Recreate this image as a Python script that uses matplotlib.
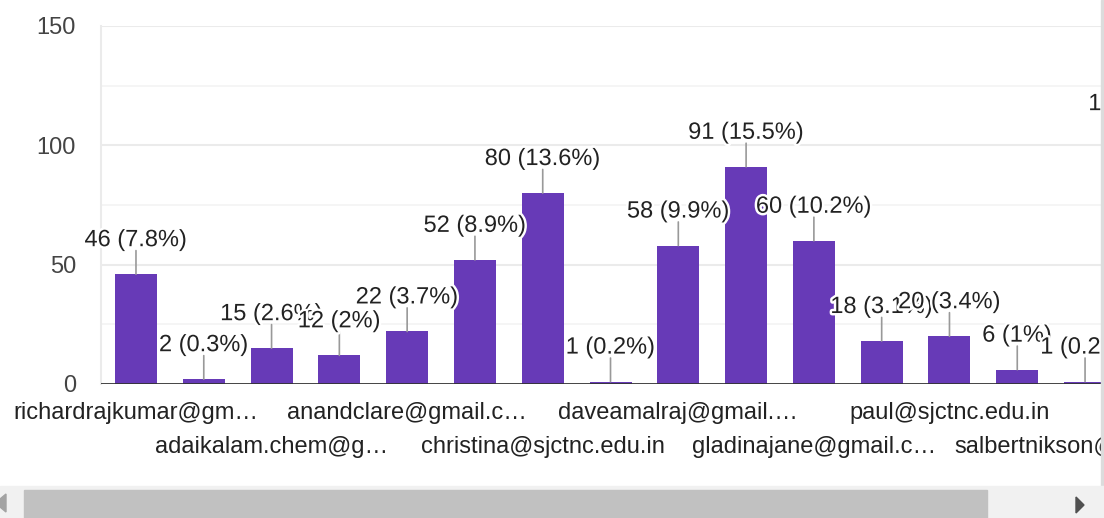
import matplotlib.pyplot as plt
import matplotlib.patheffects as pe
from matplotlib.patches import Rectangle, Polygon
from matplotlib.transforms import blended_transform_factory, offset_copy

plt.rcParams['font.family'] = ['Liberation Sans', 'DejaVu Sans']

# responses per address (names of unlabeled bars are not shown in the picture)
names = ['richardrajkumar@gm…', '', 'adaikalam.chem@g…', '', 'anandclare@gmail.c…', '',
         'christina@sjctnc.edu.in', '', 'daveamalraj@gmail.…', '', 'gladinajane@gmail.c…', '',
         'paul@sjctnc.edu.in', '', 'salbertnikson@gmail.c…', '']
counts = [46, 2, 15, 12, 22, 52, 80, 1, 58, 91, 60, 18, 20, 6, 1, 103]
pcts = ['7.8%', '0.3%', '2.6%', '2%', '3.7%', '8.9%', '13.6%', '0.2%', '9.9%', '15.5%',
        '10.2%', '3.1%', '3.4%', '1%', '0.2%', '17.5%']
yticks = [0, 50, 100, 150]

FS = 17
W, H = 1104, 518
fig = plt.figure(figsize=(W / 100, H / 100), dpi=100)
ax = fig.add_axes([101 / W, 1 - 384 / H, (1102 - 101) / W, (384 - 26) / H])

x = list(range(len(counts)))
ax.bar(x, counts, width=0.62, color='#673ab7', zorder=3)
ax.set_xlim(-0.516, 14.25)
ax.set_ylim(0, 150)

for v in [25, 75, 125]:
    ax.axhline(v, color='#f4f4f4', lw=1.2, zorder=1)
for v in [50, 100, 150]:
    ax.axhline(v, color='#ebebeb', lw=1.5, zorder=1)
ax.axhline(0, color='#333333', lw=2, zorder=4)

for s in ['top', 'right', 'bottom']:
    ax.spines[s].set_visible(False)
ax.spines['left'].set_color('#ebebeb')
ax.spines['left'].set_linewidth(1.5)

ax.set_yticks(yticks)
ax.set_yticklabels([str(t) for t in yticks], fontsize=FS, color='#444444')
ax.tick_params(axis='y', length=0, pad=18)
ax.set_xticks([])

# leader lines and value labels
halo = [pe.withStroke(linewidth=3.5, foreground='white')]
for i, (c, p) in enumerate(zip(counts, pcts)):
    ln = ax.annotate('', xy=(i, c), xytext=(0, 17), textcoords='offset points',
                     arrowprops=dict(arrowstyle='-', color='#999999', lw=1.2, shrinkA=0, shrinkB=0),
                     annotation_clip=False, zorder=5)
    ln.arrow_patch.set_clip_on(True)
    t = ax.annotate(f'{c} ({p})', xy=(i, c), xytext=(0, 24.5), textcoords='offset points',
                    ha='center', va='center', fontsize=FS, color='#222222',
                    path_effects=halo, annotation_clip=False, zorder=6)
    t.set_clip_on(True)

# category labels in two staggered rows
trans = blended_transform_factory(ax.transData, ax.transAxes)
row = 0
for i, n in enumerate(names):
    if not n:
        continue
    dy = -21 if row == 0 else -45.5
    ax.text(i, 0, n, transform=offset_copy(trans, fig=fig, y=dy, units='points'),
            ha='center', va='center', fontsize=FS, color='#222222', clip_on=False)
    row = 1 - row

# right border and scrollbar
fig.patches.append(Rectangle((1101 / W, 1 - 486 / H), 2 / W, 486 / H,
                             transform=fig.transFigure, color='#dcdcdc', zorder=0))
fig.patches.append(Rectangle((0, 0), 1, 32 / H, transform=fig.transFigure,
                             color='#f1f1f1', zorder=0))
fig.patches.append(Rectangle((24 / W, 0), (987 - 24) / W, 28 / H, transform=fig.transFigure,
                             color='#c1c1c1', zorder=1))
fig.patches.append(Polygon([(0, 1 - 499 / H), (6 / W, 1 - 494 / H), (6 / W, 1 - 512 / H), (0, 1 - 507 / H)],
                           closed=True, transform=fig.transFigure, color='#a3a3a3', zorder=1))
fig.patches.append(Polygon([(1076 / W, 1 - 497 / H), (1084 / W, 1 - 505 / H), (1076 / W, 1 - 513 / H)],
                           closed=True, transform=fig.transFigure, color='#505050', zorder=1))

fig.savefig('out.png', dpi=100)
